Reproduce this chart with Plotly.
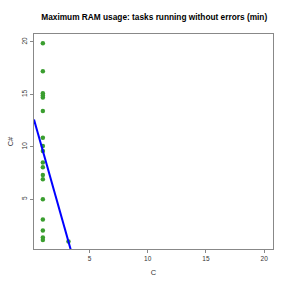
import plotly.graph_objects as go

x_vals = [1]*18 + [3.2]
y_vals = [19.88, 17.2, 15.1, 14.9, 14.7, 13.4, 10.86, 10.07, 9.6, 8.5, 8.05,
          7.3, 6.9, 5.0, 3.05, 2.0, 1.33, 1.1, 0.96]
fit_intercept = 13.55
fit_slope = -3.94
x_ticks = [5, 10, 15, 20]
y_ticks = [5, 10, 15, 20]

xr = [0.24, 20.76]
yr = [0.24, 20.76]

fig = go.Figure()
fig.add_trace(go.Scatter(x=x_vals, y=y_vals, mode="markers",
                         marker=dict(color="#3a9e2f", size=4.5, line=dict(width=0)),
                         showlegend=False, cliponaxis=True))
lx = [xr[0], xr[1]]
ly = [fit_intercept + fit_slope * v for v in lx]
fig.add_trace(go.Scatter(x=lx, y=ly, mode="lines",
                         line=dict(color="#0000ff", width=2), showlegend=False))

axis_common = dict(showgrid=False, zeroline=False, showline=True, mirror=True,
                   linecolor="#888888", linewidth=1, ticks="outside", ticklen=3,
                   tickcolor="#888888", automargin=False,
                   tickfont=dict(family="Liberation Sans", size=6.5, color="#333"))
fig.update_xaxes(range=xr, tickvals=x_ticks, title=dict(text="C", font=dict(family="Liberation Sans", size=7.5, color="#333"), standoff=8), **axis_common)
fig.update_yaxes(range=yr, tickvals=y_ticks, tickangle=-90,
                 title=dict(text="C#", font=dict(family="Liberation Sans", size=7.5, color="#333"), standoff=6), **axis_common)

fig.update_layout(
    width=291, height=291,
    margin=dict(l=34, r=18, t=34, b=42),
    paper_bgcolor="white", plot_bgcolor="white",
    title=dict(text="<b>Maximum RAM usage: tasks running without errors (min)</b>",
               x=0.53, xanchor="center", y=1 - 17/291, yanchor="middle",
               font=dict(family="Liberation Sans", size=8.3, color="black")),
)
fig.write_html("out.html", config={"displayModeBar": False},
               post_script="document.body.style.margin='0';")
